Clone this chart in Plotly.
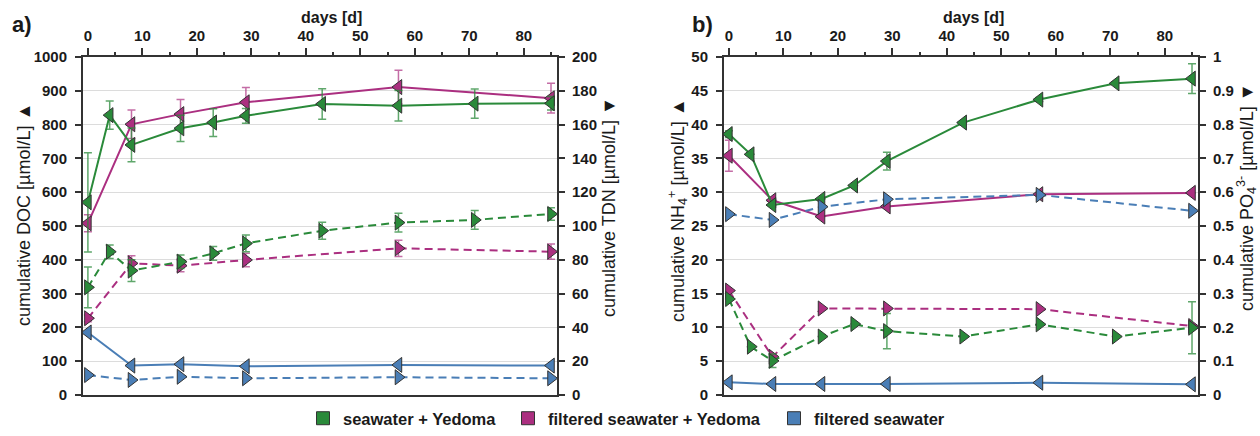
import plotly.graph_objects as go

# ---------------- data ----------------
days_sy = [0, 4, 8, 17, 23, 29, 43, 57, 71, 85]
days_other = [0, 8, 17, 29, 57, 85]

# panel a) DOC (left axis) and TDN (right axis)
doc_sy = [570, 828, 740, 789, 806, 826, 861, 856, 862, 863]
doc_sy_err = [147, 42, 50, 39, 41, 22, 45, 45, 43, 20]
doc_fsy = [508, 801, 831, 866, 911, 878]
doc_fsy_err = [25, 42, 43, 44, 50, 44]
doc_fs = [185, 87, 91, 85, 89, 87]

tdn_sy = [63.7, 84.8, 73.6, 78.9, 83.8, 89.7, 97.2, 102.0, 103.6, 107.1]
tdn_sy_err = [12, 4, 6.5, 4, 4, 5, 5, 5.5, 5.5, 3.7]
tdn_fsy = [45.4, 77.9, 76.5, 79.9, 86.8, 84.8]
tdn_fsy_err = [2, 4.5, 3.5, 4, 4.8, 4.5]
tdn_fs = [11.8, 8.9, 10.8, 9.9, 10.5, 9.9]

# panel b) NH4+ (left axis) and PO4 3- (right axis)
nh4_sy = [38.6, 35.6, 28.1, 29.0, 31.0, 34.6, 40.3, 43.7, 46.1, 46.8]
nh4_sy_err = [0.5, 0, 0, 0, 0, 1.3, 0, 0.3, 0, 2.2]
nh4_fsy = [35.4, 28.8, 26.4, 27.9, 29.7, 29.9]
nh4_fsy_err = [2.3, 0, 0, 0, 0, 0]
nh4_fs = [1.87, 1.63, 1.63, 1.63, 1.82, 1.58]

po4_sy = [0.284, 0.143, 0.101, 0.173, 0.210, 0.189, 0.173, 0.209, 0.173, 0.199]
po4_sy_err = [0, 0, 0.02, 0, 0, 0.052, 0, 0, 0, 0.077]
po4_fsy = [0.309, 0.113, 0.256, 0.256, 0.254, 0.204]
po4_fs = [0.535, 0.518, 0.557, 0.579, 0.592, 0.545]

series_names = ["seawater + Yedoma", "filtered seawater + Yedoma", "filtered seawater"]
x_ticks = [0, 10, 20, 30, 40, 50, 60, 70, 80]

# ---------------- style ----------------
GREEN = "#2a8a3a"
MAGENTA = "#ab2f80"
BLUE = "#4a7eb6"
ERR = {GREEN: "rgba(42,138,58,0.75)", MAGENTA: "rgba(171,47,128,0.7)", BLUE: "rgba(74,126,182,0.7)"}
FONT = "Liberation Sans, Arial, sans-serif"
AXC = "#333333"
TXT = "#1a1a1a"

fig = go.Figure()


def add(x, y, color, xa, ya, dashed, err=None):
    kw = {}
    if err is not None:
        kw["error_y"] = dict(type="data", array=err, visible=True, color=ERR[color],
                             thickness=1.5, width=4)
    fig.add_trace(go.Scatter(
        x=x, y=y, xaxis=xa, yaxis=ya, mode="lines+markers", showlegend=False,
        line=dict(color=color, width=2, dash="8px,5px" if dashed else "solid"),
        marker=dict(symbol="triangle-right" if dashed else "triangle-left", size=13,
                    color=color, line=dict(color=AXC, width=1)),
        **kw))


# panel a
add(days_other, doc_fs, BLUE, "x", "y", False)
add(days_other, tdn_fs, BLUE, "x", "y2", True)
add(days_other, tdn_fsy, MAGENTA, "x", "y2", True, tdn_fsy_err)
add(days_sy, tdn_sy, GREEN, "x", "y2", True, tdn_sy_err)
add(days_other, doc_fsy, MAGENTA, "x", "y", False, doc_fsy_err)
add(days_sy, doc_sy, GREEN, "x", "y", False, doc_sy_err)

# panel b
add(days_other, nh4_fs, BLUE, "x2", "y3", False)
add(days_other, po4_fs, BLUE, "x2", "y4", True)
add(days_other, po4_fsy, MAGENTA, "x2", "y4", True)
add(days_sy, po4_sy, GREEN, "x2", "y4", True, po4_sy_err)
add(days_other, nh4_fsy, MAGENTA, "x2", "y3", False, nh4_fsy_err)
add(days_sy, nh4_sy, GREEN, "x2", "y3", False, nh4_sy_err)

W, H = 1260, 436

# legend entries (square symbols), each in its own legend for exact placement
legend_px = [303, 508, 774]
for i, (name, col) in enumerate(zip(series_names, [GREEN, MAGENTA, BLUE])):
    lg = "legend" if i == 0 else f"legend{i + 1}"
    fig.add_trace(go.Scatter(x=[None], y=[None], xaxis="x", yaxis="y", mode="markers", name=name,
                             marker=dict(symbol="square", size=13, color=col,
                                         line=dict(color=AXC, width=1)),
                             showlegend=True, legend=lg))

xa_dom = [83 / W, 557 / W]
xb_dom = [724 / W, 1198 / W]
y_dom = [1 - 395 / H, 1 - 57 / H]

tickfont = dict(family=FONT, size=15, color=TXT, weight="bold")


def xaxis(dom, anchor):
    return dict(domain=dom, anchor=anchor, side="top", range=[-0.9, 86.1],
                tickvals=x_ticks, ticks="outside", ticklen=7, tickwidth=1.5, tickcolor=AXC,
                minor=dict(dtick=5, tick0=0, ticks="outside", ticklen=3, tickwidth=1.5, tickcolor=AXC),
                showline=True, linecolor=AXC, linewidth=2, mirror=True, showgrid=False,
                zeroline=False, tickfont=tickfont, automargin=False, ticklabelstandoff=1)


def yleft(dom, anchor, rng, dtick):
    return dict(domain=dom, anchor=anchor, range=rng, dtick=dtick, ticks="outside", ticklen=6,
                tickwidth=1.5, tickcolor=AXC, showline=True, linecolor=AXC, linewidth=2,
                showgrid=True, gridcolor="#dcdcdc", gridwidth=1, zeroline=False,
                tickfont=tickfont, automargin=False, ticklabelstandoff=5)


def yright(overlay, anchor, rng, dtick):
    return dict(overlaying=overlay, anchor=anchor, side="right", range=rng, dtick=dtick,
                ticks="outside", ticklen=6, tickwidth=1.5, tickcolor=AXC, showline=True,
                linecolor=AXC, linewidth=2, showgrid=False, zeroline=False,
                tickfont=tickfont, automargin=False, ticklabelstandoff=4)


legend_common = dict(orientation="h", yanchor="bottom", y=0, xanchor="left",
                     font=dict(family=FONT, size=16.5, color=TXT, weight="bold"),
                     bgcolor="rgba(0,0,0,0)", itemwidth=30, tracegroupgap=0)

fig.update_layout(
    width=W, height=H, margin=dict(l=0, r=0, t=0, b=0),
    paper_bgcolor="white", plot_bgcolor="white",
    font=dict(family=FONT, color=TXT),
    xaxis=xaxis(xa_dom, "y"),
    yaxis=yleft(y_dom, "x", [0, 1000], 100),
    yaxis2=yright("y", "x", [0, 200], 20),
    xaxis2=xaxis(xb_dom, "y3"),
    yaxis3=yleft(y_dom, "x2", [0, 50], 5),
    yaxis4=yright("y3", "x2", [0, 1], 0.1),
    legend=dict(legend_common, x=legend_px[0] / W),
    legend2=dict(legend_common, x=legend_px[1] / W),
    legend3=dict(legend_common, x=legend_px[2] / W),
)

ann_font = dict(family=FONT, size=18, color=TXT)
annotations = [
    dict(text="<b>a)</b>", x=22 / W, y=1 - 24 / H, font=dict(family=FONT, size=22, color=TXT)),
    dict(text="<b>b)</b>", x=702 / W, y=1 - 24 / H, font=dict(family=FONT, size=22, color=TXT)),
    dict(text="<b>days [d]</b>", x=331 / W, y=1 - 17 / H, font=dict(family=FONT, size=16, color=TXT)),
    dict(text="<b>days [d]</b>", x=973 / W, y=1 - 17 / H, font=dict(family=FONT, size=16, color=TXT)),
    dict(text="cumulative DOC [µmol/L] ▲", x=24 / W, y=1 - 215 / H, textangle=-90, font=ann_font),
    dict(text="cumulative TDN [µmol/L] ▼", x=609 / W, y=1 - 207 / H, textangle=-90, font=ann_font),
    dict(text="cumulative NH<sub>4</sub><sup>+</sup> [µmol/L] ▲", x=677 / W, y=1 - 210 / H,
         textangle=-90, font=ann_font),
    dict(text="cumulative PO<sub>4</sub><sup>3-</sup> [µmol/L] ▼", x=1246 / W, y=1 - 198 / H,
         textangle=-90, font=ann_font),
]
for a in annotations:
    a.update(xref="paper", yref="paper", showarrow=False, xanchor="center", yanchor="middle")
fig.update_layout(annotations=annotations)

fig.write_html("out.html")
